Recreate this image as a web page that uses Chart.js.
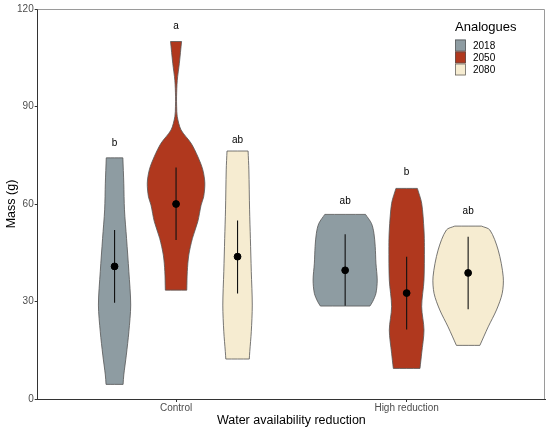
<!DOCTYPE html>
<html><head><meta charset="utf-8">
<script src="https://cdn.jsdelivr.net/npm/chart.js@4/dist/chart.umd.min.js"></script>
<style>html,body{margin:0;padding:0;background:#fff;}#wrap{width:550px;height:429px;position:relative;}</style>
</head><body><div id="wrap"><canvas id="c"></canvas></div>
<script>
const categories = ['Control', 'High reduction'];
const analogues = ['2018', '2050', '2080'];
const fillColors = ['#8E9CA2', '#B0381E', '#F6ECD1'];

// Violin outlines: y levels (g) and half-widths (x-axis units)
const ctrl2018Y = [4.5, 7.4, 13.5, 20.7, 28.9, 39.2, 49.4, 58.2, 66.4, 74.2];
const ctrl2018W = [0.037, 0.040, 0.051, 0.062, 0.070, 0.062, 0.052, 0.043, 0.040, 0.036];
const ctrl2050Y = [33.5, 39.2, 44.3, 49.4, 54.6, 59.7, 62.2, 66.4, 70.5, 74.6, 78.7, 82.8, 86.9, 90, 93, 98, 103.3, 110];
const ctrl2050W = [0.0465, 0.0487, 0.0552, 0.0709, 0.0943, 0.1087, 0.1196, 0.1248, 0.1161, 0.0943, 0.0652, 0.0217, 0.0052, 0.0026, 0.0022, 0.0052, 0.0143, 0.0239];
const ctrl2080Y = [12.3, 14.6, 20.7, 28.9, 39.2, 49.4, 58.2, 70.5, 76.3];
const ctrl2080W = [0.0509, 0.0530, 0.0596, 0.0639, 0.0596, 0.0557, 0.0522, 0.0491, 0.0457];
const high2018Y = [28.6, 29.9, 32.5, 36.6, 41.8, 46.9, 51, 54, 56.8];
const high2018W = [0.1074, 0.1187, 0.1335, 0.1391, 0.1335, 0.1304, 0.1248, 0.1143, 0.0883];
const high2050Y = [9.4, 14.1, 21.2, 28.4, 36.6, 46.9, 52, 60.2, 64.8];
const high2050W = [0.0578, 0.0652, 0.0752, 0.0652, 0.0752, 0.0770, 0.0752, 0.0652, 0.0465];
const high2080Y = [16.5, 22.2, 27.4, 32.5, 37.6, 45.8, 52, 53.2];
const high2080W = [0.0509, 0.0870, 0.1230, 0.1478, 0.1522, 0.1304, 0.0943, 0.0578];

// Means and error bars (per analogue: 2018, 2050, 2080)
const meanControl = [40.8, 60.0, 43.8];
const lowControl  = [29.6, 48.9, 32.5];
const upControl   = [52.0, 71.2, 54.9];
const meanHigh = [39.6, 32.6, 38.8];
const lowHigh  = [28.7, 21.4, 27.6];
const upHigh   = [50.7, 43.8, 49.9];

// Significance letters
const lettersControl = ['b', 'a', 'ab'];
const letterYControl = [78.8, 114.8, 79.7];
const lettersHigh = ['ab', 'b', 'ab'];
const letterYHigh = [60.7, 69.8, 57.8];

const yTicks = [0, 30, 60, 90, 120];

const dodge = 0.8 / 3;
const FONT = "'Liberation Sans', Arial, sans-serif";

function pos(catIdx, anIdx) { return catIdx + 1 + (anIdx - 1) * dodge; }
// closed outline; the flat ends' corners are repeated so the smoothed curve keeps them sharp
function outline(c, ys, ws) {
  const n = ys.length;
  const right = ys.map((y, i) => ({x: c + ws[i], y}));
  const left = ys.map((y, i) => ({x: c - ws[i], y})).reverse();
  const pts = [right[0]].concat(right.slice(0, n - 1), [right[n - 1], right[n - 1]],
    [left[0], left[0]], left.slice(1), [left[n - 1], right[0]]);
  return pts;
}

const violinSets = [
  [0, 0, ctrl2018Y, ctrl2018W], [0, 1, ctrl2050Y, ctrl2050W], [0, 2, ctrl2080Y, ctrl2080W],
  [1, 0, high2018Y, high2018W], [1, 1, high2050Y, high2050W], [1, 2, high2080Y, high2080W]
];

const datasets = [];
const meanPts = [];
[meanControl, meanHigh].forEach((arr, ci) => arr.forEach((m, ai) => meanPts.push({x: pos(ci, ai), y: m})));
datasets.push({label: 'mean', data: meanPts, order: 0, pointRadius: 3.4, pointBackgroundColor: '#000', pointBorderColor: '#000', showLine: false});
[[lowControl, upControl], [lowHigh, upHigh]].forEach((pair, ci) => {
  pair[0].forEach((lo, ai) => {
    datasets.push({label: 'err', data: [{x: pos(ci, ai), y: lo}, {x: pos(ci, ai), y: pair[1][ai]}],
      order: 1, showLine: true, borderColor: '#111', borderWidth: 1.1, pointRadius: 0, fill: false});
  });
});
violinSets.forEach(([ci, ai, ys, ws]) => {
  datasets.push({label: analogues[ai], data: outline(pos(ci, ai), ys, ws), order: 2,
    showLine: true, fill: 'shape', backgroundColor: fillColors[ai], borderColor: '#555',
    borderWidth: 0.8, pointRadius: 0, tension: 0.3});
});

const extras = {
  id: 'extras',
  beforeDraw(chart) {
    const ctx = chart.ctx;
    ctx.save(); ctx.fillStyle = '#fff'; ctx.fillRect(0, 0, chart.width, chart.height); ctx.restore();
  },
  afterDraw(chart) {
    const ctx = chart.ctx, a = chart.chartArea, xs = chart.scales.x, ys = chart.scales.y;
    ctx.save();
    ctx.strokeStyle = '#9a9a9a'; ctx.lineWidth = 1;
    ctx.beginPath(); ctx.moveTo(a.left, a.top + 0.5); ctx.lineTo(a.right - 0.5, a.top + 0.5); ctx.lineTo(a.right - 0.5, a.bottom); ctx.stroke();
    ctx.fillStyle = '#000'; ctx.font = '10px ' + FONT; ctx.textAlign = 'center'; ctx.textBaseline = 'middle';
    [[lettersControl, letterYControl], [lettersHigh, letterYHigh]].forEach((p, ci) => {
      p[0].forEach((t, ai) => ctx.fillText(t, xs.getPixelForValue(pos(ci, ai)), ys.getPixelForValue(p[1][ai])));
    });
    const lx = 455, ly = 27.5;
    ctx.textAlign = 'left';
    ctx.font = '13px ' + FONT;
    ctx.fillText('Analogues', lx, ly);
    ctx.font = '10px ' + FONT;
    analogues.forEach((name, i) => {
      const ky = 39.5 + i * 12;
      ctx.fillStyle = fillColors[i];
      ctx.fillRect(lx, ky, 11, 12);
      ctx.strokeStyle = '#555'; ctx.lineWidth = 0.7;
      ctx.strokeRect(lx + 0.5, ky + 0.5, 10, 11);
      ctx.fillStyle = '#000';
      ctx.fillText(name, lx + 18, ky + 6.5);
    });
    ctx.restore();
  }
};

new Chart(document.getElementById('c'), {
  type: 'scatter',
  data: {datasets},
  plugins: [extras],
  options: {
    responsive: true, maintainAspectRatio: false, animation: false,
    layout: {padding: {left: 0, right: 5, top: 9, bottom: 0}},
    plugins: {legend: {display: false}, tooltip: {enabled: false}},
    scales: {
      x: {
        type: 'linear', min: 0.4, max: 2.6,
        afterBuildTicks: s => { s.ticks = categories.map((c, i) => ({value: i + 1})); },
        afterFit: s => { s.height = 30; },
        ticks: {callback: v => categories[Math.round(v) - 1], color: '#4D4D4D', font: {family: FONT, size: 10}, padding: 0.5, maxRotation: 0, autoSkip: false},
        grid: {drawOnChartArea: false, drawTicks: true, tickLength: 3, color: '#333', lineWidth: 1},
        border: {display: true, color: '#333', width: 1},
        title: {display: true, text: 'Water availability reduction', color: '#000', font: {family: FONT, size: 12.5}, padding: {top: 0, bottom: 1}}
      },
      y: {
        min: 0, max: 120,
        afterBuildTicks: s => { s.ticks = yTicks.map(v => ({value: v})); },
        afterFit: s => { s.width = 37.7; },
        ticks: {color: '#4D4D4D', font: {family: FONT, size: 10}, padding: 1},
        grid: {drawOnChartArea: false, drawTicks: true, tickLength: 3, color: '#333', lineWidth: 1},
        border: {display: true, color: '#333', width: 1},
        title: {display: true, text: 'Mass (g)', color: '#000', font: {family: FONT, size: 12.5}, padding: {top: 4, bottom: 0}}
      }
    }
  }
});
</script></body></html>
